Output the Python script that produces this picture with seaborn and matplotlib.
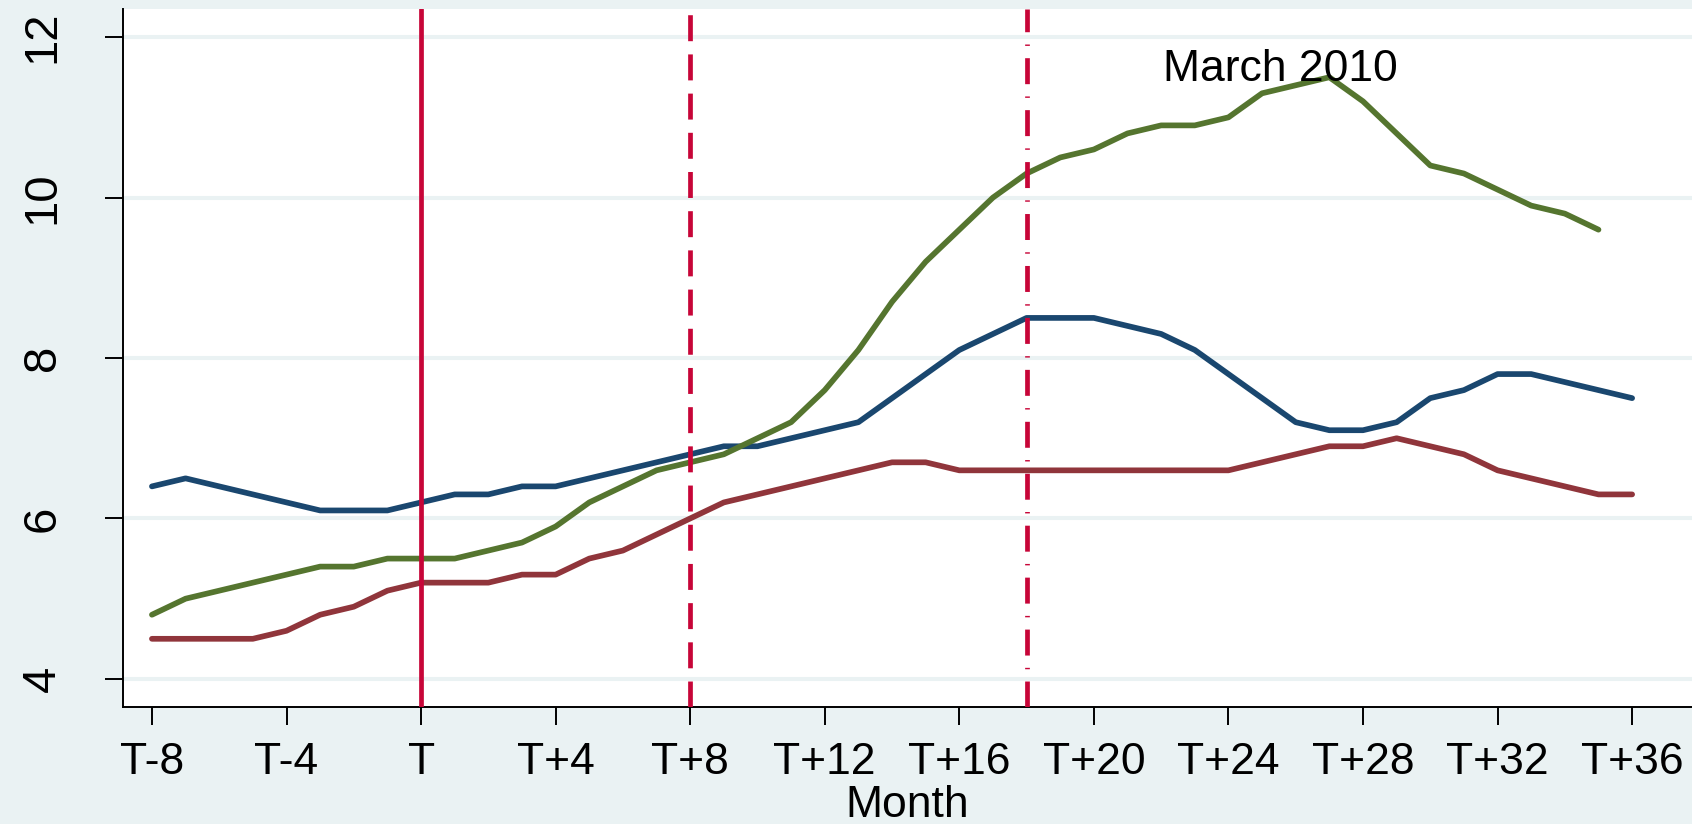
import numpy as np
import pandas as pd
import matplotlib
matplotlib.use("Agg")
import matplotlib.pyplot as plt
import seaborn as sns

# ---- data ----
months = list(range(-8, 37))
blue_vals = [6.4, 6.5, 6.4, 6.3, 6.2, 6.1, 6.1, 6.1, 6.2, 6.3, 6.3, 6.4, 6.4, 6.5, 6.6, 6.7,
             6.8, 6.9, 6.9, 7.0, 7.1, 7.2, 7.5, 7.8, 8.1, 8.3, 8.5, 8.5, 8.5, 8.4, 8.3, 8.1,
             7.8, 7.5, 7.2, 7.1, 7.1, 7.2, 7.5, 7.6, 7.8, 7.8, 7.7, 7.6, 7.5]
red_vals = [4.5, 4.5, 4.5, 4.5, 4.6, 4.8, 4.9, 5.1, 5.2, 5.2, 5.2, 5.3, 5.3, 5.5, 5.6, 5.8,
            6.0, 6.2, 6.3, 6.4, 6.5, 6.6, 6.7, 6.7, 6.6, 6.6, 6.6, 6.6, 6.6, 6.6, 6.6, 6.6,
            6.6, 6.7, 6.8, 6.9, 6.9, 7.0, 6.9, 6.8, 6.6, 6.5, 6.4, 6.3, 6.3]
green_vals = [4.8, 5.0, 5.1, 5.2, 5.3, 5.4, 5.4, 5.5, 5.5, 5.5, 5.6, 5.7, 5.9, 6.2, 6.4, 6.6,
              6.7, 6.8, 7.0, 7.2, 7.6, 8.1, 8.7, 9.2, 9.6, 10.0, 10.3, 10.5, 10.6, 10.8, 10.9, 10.9,
              11.0, 11.3, 11.4, 11.5, 11.2, 10.8, 10.4, 10.3, 10.1, 9.9, 9.8, 9.6]
series_names = ["blue", "red", "green"]
series_colors = ["#1a476f", "#90353b", "#55752f"]
xtick_values = list(range(-8, 37, 4))
xtick_labels = ["T-8", "T-4", "T", "T+4", "T+8", "T+12", "T+16", "T+20", "T+24",
                "T+28", "T+32", "T+36"]
ytick_values = [4, 6, 8, 10, 12]
event_months = [0, 8, 18]
annotation_text = "March 2010"
annotation_pos = (22.05, 11.455)
xlabel_text = "Month"

# ---- long table ----
rows = []
for name, vals in zip(series_names, [blue_vals, red_vals, green_vals]):
    for m, v in zip(months, vals):
        rows.append({"month": m, "value": v, "series": name})
df = pd.DataFrame(rows)

sns.set_theme(style="white")
plt.rcParams["font.family"] = ["Liberation Sans", "DejaVu Sans"]
plt.rcParams["text.color"] = "black"
plt.rcParams["xtick.color"] = "black"
plt.rcParams["ytick.color"] = "black"
plt.rcParams["axes.labelcolor"] = "black"

bg = "#eaf2f3"
fig = plt.figure(figsize=(16.92, 8.24), dpi=100, facecolor=bg)
ax = fig.add_axes([0.0727, 0.142, 0.9273, 0.847])
ax.set_facecolor("white")

sns.lineplot(data=df, x="month", y="value", hue="series", hue_order=series_names,
             palette=dict(zip(series_names, series_colors)), linewidth=4.1,
             legend=False, ax=ax, zorder=3)

vcol = "#c70538"
ax.axvline(event_months[0], color=vcol, lw=3.4, zorder=4)
ax.axvline(event_months[1], color=vcol, lw=3.4, zorder=4, dashes=(5.5, 2.8),
           dash_capstyle="butt")
ax.axvline(event_months[2], color=vcol, lw=3.4, zorder=4, dashes=(5.5, 2.6, 0.3, 2.6),
           dash_capstyle="butt")

ax.text(annotation_pos[0], annotation_pos[1], annotation_text, fontsize=32,
        ha="left", va="baseline", color="black", zorder=5)

ax.set_xlim(-8.86, 37.78)
ax.set_ylim(3.65, 12.35)
ax.set_xticks(xtick_values)
ax.set_xticklabels(xtick_labels)
ax.set_yticks(ytick_values)
ax.set_yticklabels([str(v) for v in ytick_values], rotation=90, va="center")

ax.yaxis.grid(True, color=bg, lw=2.9, zorder=0)
ax.xaxis.grid(False)
ax.set_axisbelow(True)

for s in ["top", "right"]:
    ax.spines[s].set_visible(False)
for s in ["left", "bottom"]:
    ax.spines[s].set_color("black")
    ax.spines[s].set_linewidth(1.4)

ax.tick_params(axis="x", direction="out", length=13, width=1.4, color="black",
               labelcolor="black", labelsize=32, pad=12, bottom=True)
ax.tick_params(axis="y", direction="out", length=13, width=1.4, color="black",
               labelcolor="black", labelsize=34, pad=29, left=True)
ax.set_xlabel(xlabel_text, fontsize=32, labelpad=2, color="black")
ax.set_ylabel("")

fig.savefig("out.png", dpi=100, facecolor=bg)
